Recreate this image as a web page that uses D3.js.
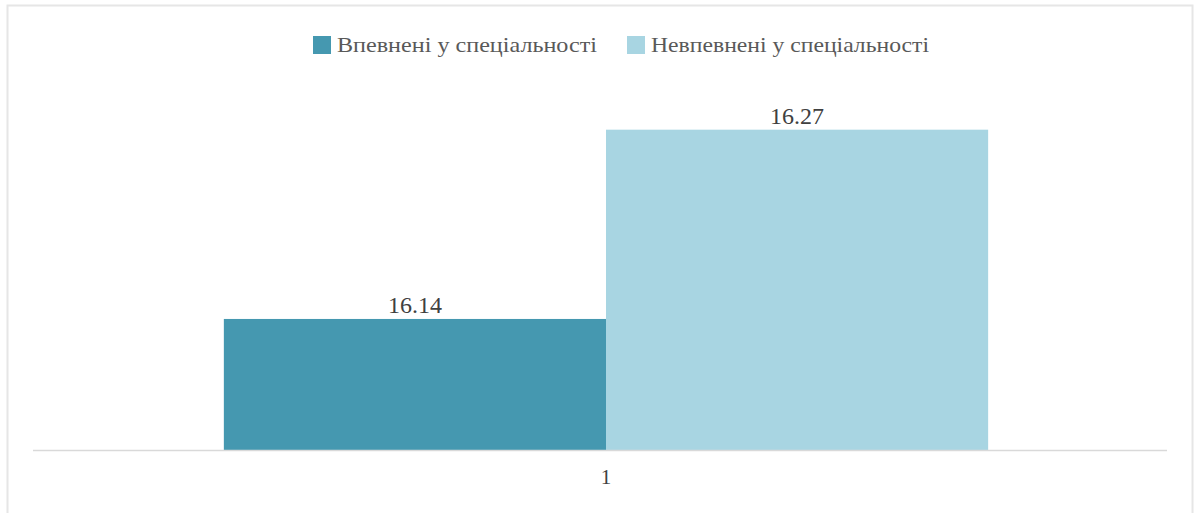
<!DOCTYPE html>
<html><head><meta charset="utf-8">
<script src="https://cdn.jsdelivr.net/npm/d3@7"></script>
<style>body{margin:0;background:#fff}svg{display:block}text{font-family:"Liberation Serif","DejaVu Serif","Times New Roman",serif}</style>
</head><body>
<svg id="c" width="1200" height="513"></svg>
<script>
const categories = ["1"];
const seriesNames = ["Впевнені у спеціальності", "Невпевнені у спеціальності"];
const seriesValues = [16.14, 16.27];
const colors = ["#4598b0", "#a8d5e2"];

const svg = d3.select("#c");

svg.append("rect").attr("x", 7.5).attr("y", 5.5).attr("width", 1185).attr("height", 520)
  .attr("fill", "none").attr("stroke", "#e6e6e6").attr("stroke-width", 2);

const x0 = d3.scaleBand().domain(categories).range([45, 1167]).paddingInner(0).paddingOuter(0.234);
const x1 = d3.scaleBand().domain(seriesNames).range([0, x0.bandwidth()]).padding(0);
const y = d3.scaleLinear().domain([16.05, 16.30]).range([450, 86]);

const g = svg.append("g");
categories.forEach(c => {
  seriesNames.forEach((s, i) => {
    const v = seriesValues[i];
    g.append("rect")
      .attr("x", x0(c) + x1(s)).attr("width", x1.bandwidth())
      .attr("y", y(v)).attr("height", y.range()[0] - y(v))
      .attr("fill", colors[i]);
    g.append("text")
      .attr("x", x0(c) + x1(s) + x1.bandwidth() / 2).attr("y", y(v) - 6)
      .attr("text-anchor", "middle").attr("font-size", 24)
      .attr("fill", "#404040").text(v.toFixed(2));
  });
});

svg.append("line").attr("x1", 33).attr("x2", 1167).attr("y1", 450.5).attr("y2", 450.5)
  .attr("stroke", "#d9d9d9").attr("stroke-width", 1.5);

const xAxis = d3.axisBottom(x0).tickSize(0).tickPadding(18);
const ax = svg.append("g").attr("transform", "translate(0,451)").call(xAxis);
ax.select(".domain").remove();
ax.selectAll("text").attr("font-family", null).attr("font-size", 21).attr("fill", "#404040");

const legend = [{x: 313, w: 260}, {x: 627, w: 278}];
seriesNames.forEach((s, i) => {
  const lg = svg.append("g").attr("transform", `translate(${legend[i].x},36)`);
  lg.append("rect").attr("width", 18).attr("height", 18).attr("fill", colors[i]);
  lg.append("text").attr("x", 24).attr("y", 16).attr("font-size", 21)
    .attr("textLength", legend[i].w).attr("lengthAdjust", "spacingAndGlyphs")
    .attr("fill", "#595959").text(s);
});
</script>
</body></html>
